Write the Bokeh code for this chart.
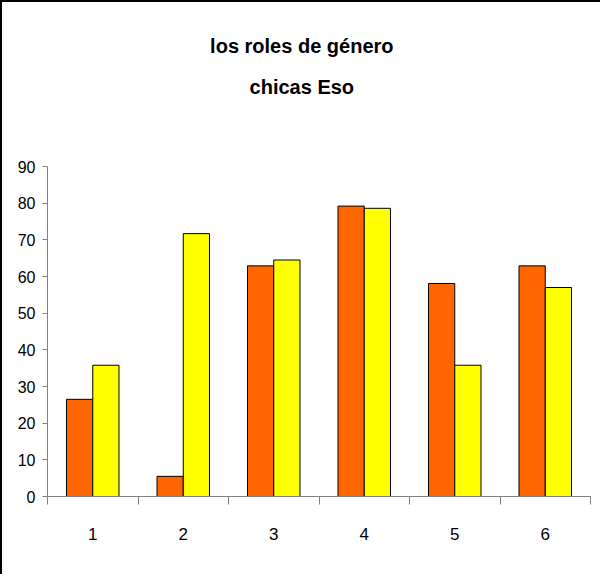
from bokeh.plotting import figure
from bokeh.models import FixedTicker, Range1d, Label, ColumnDataSource
from bokeh.transform import dodge
from bokeh.embed import file_html
from bokeh.resources import INLINE

categories = ["1", "2", "3", "4", "5", "6"]
serie_naranja = [26.5, 5.5, 62.9, 79.2, 58.1, 62.9]
serie_amarilla = [35.8, 71.7, 64.5, 78.6, 35.8, 57.0]
y_ticks = [0, 10, 20, 30, 40, 50, 60, 70, 80, 90]
title_lines = ["los roles de género", "chicas Eso"]

FONT = "Liberation Sans"
Y_MAX = 90
Y_TOP = 132  # extra room above the axis for the title
PX_PER_UNIT = 3.667

pos = [i + 0.5 for i in range(len(categories))]
src = ColumnDataSource(dict(x=pos, a=serie_naranja, b=serie_amarilla))

p = figure(width=598, height=572, output_backend="svg", toolbar_location=None,
           x_range=Range1d(0, len(categories)), y_range=Range1d(0, Y_TOP),
           frame_height=int(round(Y_TOP * PX_PER_UNIT)), frame_width=543,
           min_border_left=45, min_border_right=10, min_border_top=10, min_border_bottom=78)
p.styles = {"border-top": "2px solid black", "border-left": "2px solid black"}

p.vbar(x=dodge("x", -0.145, range=p.x_range), top="a", width=0.29, source=src,
       fill_color="#FF6600", line_color="black", line_width=1)
p.vbar(x=dodge("x", 0.145, range=p.x_range), top="b", width=0.29, source=src,
       fill_color="#FFFF00", line_color="black", line_width=1)

p.grid.visible = False
p.outline_line_color = None
p.background_fill_color = "white"
p.border_fill_color = "white"

xt = FixedTicker(ticks=pos, minor_ticks=list(range(len(categories) + 1)))
p.xaxis.ticker = xt
p.xaxis.major_label_overrides = {v: c for v, c in zip(pos, categories)}
p.xaxis.major_tick_out = 0
p.xaxis.major_tick_in = 0
p.xaxis.minor_tick_out = 8
p.xaxis.minor_tick_in = 0
p.xaxis.minor_tick_line_color = "#808080"
p.xaxis.axis_line_color = "#808080"
p.xaxis.major_label_standoff = 23
p.xaxis.major_label_text_font = FONT
p.xaxis.major_label_text_font_size = "17px"
p.xaxis.major_label_text_color = "black"

p.yaxis.ticker = FixedTicker(ticks=y_ticks)
p.yaxis.bounds = (0, Y_MAX)
p.yaxis.major_tick_out = 5
p.yaxis.major_tick_in = 0
p.yaxis.minor_tick_line_color = None
p.yaxis.major_tick_line_color = "#808080"
p.yaxis.axis_line_color = "#808080"
p.yaxis.major_label_standoff = 7
p.yaxis.major_label_text_font = FONT
p.yaxis.major_label_text_font_size = "16px"
p.yaxis.major_label_text_color = "black"

for txt, yy in zip(title_lines, [123.0, 111.8]):
    p.add_layout(Label(x=2.81, y=yy, text=txt,
                       text_font=FONT, text_font_style="bold", text_font_size="20px",
                       text_align="center", text_baseline="middle", text_color="black"))

open("out.html", "w").write(file_html(p, INLINE))
